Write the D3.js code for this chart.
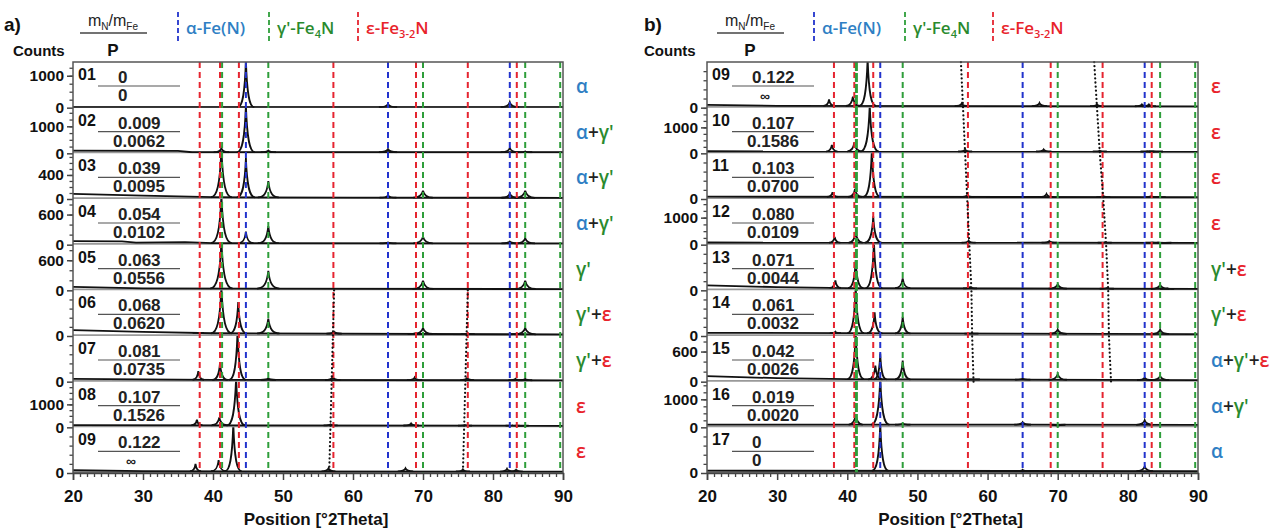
<!DOCTYPE html>
<html>
<head>
<meta charset="utf-8">
<script src="https://cdn.jsdelivr.net/npm/d3@7"></script>
<style>
  body { margin: 0; background: #fff; }
  text { font-family: "Liberation Sans", Arial, sans-serif; }
</style>
</head>
<body>
<div id="chart"></div>
<script>
// reference peak positions (deg 2theta)
const alphaRef = [44.7, 65.0, 82.4];
const gammaRef = [41.3, 47.9, 70.0, 84.6, 89.6];
const epsRef = [38.1, 41.0, 43.7, 57.2, 69.0, 76.4, 83.4];

// panel a
const samplesA = ["01", "02", "03", "04", "05", "06", "07", "08", "09"];
const ratioA = ["0", "0.009", "0.039", "0.054", "0.063", "0.068", "0.081", "0.107", "0.122"];
const potA = ["0", "0.0062", "0.0095", "0.0102", "0.0556", "0.0620", "0.0735", "0.1526", "∞"];
const phaseA = ["α", "α+γ'", "α+γ'", "α+γ'", "γ'", "γ'+ε", "γ'+ε", "ε", "ε"];
const yMaxA = [1430, 1690, 760, 910, 910, 1000, 1000, 1990, 1000];
const yLabelA = [1000, 1000, 400, 600, 600, null, null, 1000, null];
const yStepA = [250, 250, 100, 200, 200, 200, 200, 250, 200];
const bgA = [
  [[20, 15], [90, 15]],
  [[20, 100], [35, 90], [37, 40], [90, 40]],
  [[20, 85], [30, 55], [40, 30], [60, 22], [90, 20]],
  [[20, 70], [27, 65], [29, 40], [36, 50], [40, 30], [90, 25]],
  [[20, 70], [30, 40], [90, 25]],
  [[20, 130], [30, 90], [40, 60], [90, 35]],
  [[20, 60], [40, 40], [90, 30]],
  [[20, 100], [90, 70]],
  [[20, 60], [30, 40], [90, 30]]
];
// [position, apex counts, half base width]
const peaksA = [
  [[44.7, 1500, 1.2], [65.0, 110, 1.3], [82.4, 170, 1.3]],
  [[41.2, 190, 1.1], [44.7, 1800, 1.3], [47.9, 100, 1.1], [65.0, 150, 1.3], [82.4, 200, 1.3], [84.6, 70, 1]],
  [[41.2, 850, 1.5], [44.7, 680, 1.3], [47.9, 300, 1.5], [65.0, 60, 1.2], [70.0, 140, 1.4], [82.4, 90, 1.2], [84.6, 140, 1.4]],
  [[41.2, 1000, 1.5], [44.7, 260, 1.1], [47.9, 370, 1.5], [65.0, 45, 1.2], [70.0, 160, 1.4], [82.4, 60, 1.2], [84.6, 130, 1.4]],
  [[41.2, 1000, 1.6], [47.9, 390, 1.6], [70.0, 190, 1.5], [84.6, 190, 1.5]],
  [[37.9, 70, 0.8], [41.2, 1100, 1.5], [43.6, 745, 1.2], [47.9, 380, 1.6], [57.3, 90, 1.1], [68.9, 60, 1.1], [70.0, 175, 1.4], [76.4, 45, 1], [83.4, 50, 1], [84.6, 175, 1.5]],
  [[37.9, 230, 0.8], [41.0, 415, 1.1], [43.5, 1100, 1.2], [47.9, 70, 1.1], [57.1, 100, 1.1], [68.8, 90, 1.1], [76.3, 80, 1], [83.2, 60, 1], [84.6, 60, 1]],
  [[37.7, 330, 0.8], [40.9, 430, 1.1], [43.3, 2200, 1.3], [56.8, 130, 1], [68.3, 170, 1.1], [76.0, 100, 1], [82.8, 90, 1], [84.1, 70, 1]],
  [[37.5, 200, 0.8], [40.8, 280, 1.1], [42.9, 1100, 1.2], [56.5, 100, 1], [67.5, 100, 1.1], [75.7, 80, 1], [82.0, 90, 1], [83.3, 70, 1]]
];
const dotsA = [
  [[57.3, 5], [56.6, 9]],
  [[76.4, 5], [75.7, 9]]
];

// panel b
const samplesB = ["09", "10", "11", "12", "13", "14", "15", "16", "17"];
const ratioB = ["0.122", "0.107", "0.103", "0.080", "0.071", "0.061", "0.042", "0.019", "0"];
const potB = ["∞", "0.1586", "0.0700", "0.0109", "0.0044", "0.0032", "0.0026", "0.0020", "0"];
const phaseB = ["ε", "ε", "ε", "ε", "γ'+ε", "γ'+ε", "α+γ'+ε", "α+γ'", "α"];
const yMaxB = [1000, 1760, 1000, 1690, 1000, 1000, 910, 1630, 1000];
const yLabelB = [null, 1000, null, 1000, null, null, 600, 1000, null];
const yStepB = [200, 250, 200, 250, 200, 200, 200, 250, 200];
const bgB = [
  [[20, 60], [30, 40], [90, 30]],
  [[20, 80], [90, 70]],
  [[20, 50], [90, 40]],
  [[20, 80], [90, 70]],
  [[20, 110], [30, 70], [40, 50], [90, 30]],
  [[20, 70], [90, 40]],
  [[20, 110], [30, 70], [40, 50], [90, 30]],
  [[20, 100], [90, 90]],
  [[20, 50], [90, 40]]
];
const peaksB = [
  [[37.4, 180, 0.8], [40.8, 240, 1], [42.9, 1100, 1.2], [56.3, 90, 1], [67.4, 100, 1.1], [75.6, 70, 1], [82.0, 70, 1], [83.0, 70, 1]],
  [[37.8, 330, 0.8], [41.0, 420, 1], [43.2, 1900, 1.3], [56.8, 140, 1], [68.0, 150, 1.1], [76.0, 100, 1], [82.8, 80, 1], [84.0, 80, 1]],
  [[37.9, 150, 0.8], [41.1, 220, 1], [43.5, 1100, 1.2], [57.1, 90, 1], [68.4, 110, 1.1], [76.5, 70, 1], [83.3, 60, 1], [84.4, 45, 1]],
  [[38.2, 290, 0.8], [41.2, 470, 1], [43.7, 1050, 1.2], [57.3, 150, 1], [68.8, 130, 1.1], [76.7, 90, 1], [83.5, 80, 1], [85.2, 60, 1]],
  [[38.3, 220, 0.8], [41.2, 660, 1.1], [43.8, 1100, 1.2], [47.9, 260, 1.1], [57.5, 70, 1], [70.0, 130, 1.3], [77.0, 50, 1], [84.6, 120, 1.3], [85.6, 45, 1]],
  [[38.3, 90, 0.8], [41.2, 1100, 1.2], [43.9, 520, 1.1], [47.9, 420, 1.1], [57.7, 50, 1], [70.0, 140, 1.3], [84.6, 140, 1.3]],
  [[41.2, 1000, 1.2], [44.0, 320, 1], [44.7, 560, 0.9], [47.9, 420, 1.1], [57.9, 45, 1], [65.0, 60, 1.1], [70.0, 150, 1.3], [82.4, 80, 1.1], [84.6, 110, 1.3]],
  [[41.2, 460, 1], [44.7, 1800, 1.3], [47.9, 140, 1.1], [65.0, 180, 1.2], [70.0, 60, 1.1], [82.4, 250, 1.2]],
  [[44.7, 1100, 1.2], [65.0, 70, 1.1], [82.4, 140, 1.2]]
];
const dotsB = [
  [[56.2, 0], [56.5, 1], [56.8, 2], [57.1, 3], [57.4, 4], [57.7, 5], [57.8, 6], [58.0, 7]],
  [[75.2, 0], [75.6, 1], [76.0, 2], [76.5, 3], [76.9, 4], [77.2, 5], [77.3, 6], [77.6, 7]]
];

const W = 1275, H = 529;
const plotTop = 62, plotBottom = 473, nRows = 9;
const rowH = (plotBottom - plotTop) / nRows;

const colBlueLine = "#2233cc", colGreenLine = "#2e9e3a", colRedLine = "#e52530";
const colBlue = "#2f7fc4", colGreen = "#2a8a2e", colRed = "#e8232b";
const phaseColor = { "α": colBlue, "γ'": colGreen, "ε": colRed, "+": "#222" };

const svg = d3.select("#chart").append("svg")
  .attr("width", W).attr("height", H);

const panels = [
  { tag: "a)", x0: 73, x1: 563, off: 0, samples: samplesA, ratio: ratioA, pot: potA, phase: phaseA,
    yMax: yMaxA, yLabel: yLabelA, yStep: yStepA, bg: bgA, peaks: peaksA, dots: dotsA, legendX: [178, 269, 358] },
  { tag: "b)", x0: 707, x1: 1198, off: 640, samples: samplesB, ratio: ratioB, pot: potB, phase: phaseB,
    yMax: yMaxB, yLabel: yLabelB, yStep: yStepB, bg: bgB, peaks: peaksB, dots: dotsB, legendX: [814, 905, 993] }
];

panels.forEach((p, pi) => drawPanel(p, pi));

function drawPanel(p, pi) {
  const g = svg.append("g");
  const x = d3.scaleLinear().domain([20, 90]).range([p.x0, p.x1]);

  // rows
  for (let i = 0; i < nRows; i++) {
    const rowTop = plotTop + i * rowH;
    const y = d3.scaleLinear().domain([0, p.yMax[i]]).range([rowTop + rowH, rowTop]);
    const clipId = `clip-${pi}-${i}`;
    svg.append("clipPath").attr("id", clipId)
      .append("rect").attr("x", p.x0).attr("y", rowTop).attr("width", p.x1 - p.x0).attr("height", rowH);

    const rg = g.append("g").attr("clip-path", `url(#${clipId})`);

    // separator under the trace
    rg.append("line")
      .attr("x1", p.x0).attr("x2", p.x1)
      .attr("y1", rowTop + rowH - 0.5).attr("y2", rowTop + rowH - 0.5)
      .attr("stroke", "#999").attr("stroke-width", 2.5);

    const bgScale = d3.scaleLinear().domain(p.bg[i].map(d => d[0])).range(p.bg[i].map(d => d[1]));

    rg.append("path")
      .attr("d", d3.line().x(d => x(d[0])).y(d => y(d[1]))(p.bg[i]))
      .attr("fill", "none").attr("stroke", "#111").attr("stroke-width", 1.8);

    p.peaks[i].forEach(pk => {
      const [pos, h, w] = pk;
      const b = bgScale(pos);
      const mid = b + 0.22 * (h - b);
      const pth = d3.path();
      pth.moveTo(x(pos - w), y(b));
      pth.bezierCurveTo(x(pos - 0.45 * w), y(b), x(pos - 0.13 * w), y(mid), x(pos), y(h));
      pth.bezierCurveTo(x(pos + 0.13 * w), y(mid), x(pos + 0.45 * w), y(b), x(pos + w), y(b));
      rg.append("path").attr("d", pth.toString())
        .attr("fill", "none").attr("stroke", "#111").attr("stroke-width", 1.8);
    });

    // y axis: minor + major
    const minor = d3.range(p.yStep[i], p.yMax[i], p.yStep[i]);
    g.append("g")
      .attr("transform", `translate(${p.x0},0)`)
      .call(d3.axisLeft(y).tickValues(minor).tickSize(3.5).tickFormat(""))
      .call(a => a.select(".domain").remove())
      .call(a => a.selectAll("line").attr("stroke", "#444").attr("stroke-width", 1.3));
    const major = p.yLabel[i] ? [0, p.yLabel[i]] : [0];
    g.append("g")
      .attr("transform", `translate(${p.x0},0)`)
      .call(d3.axisLeft(y).tickValues(major).tickSize(6).tickPadding(3).tickFormat(d3.format("d")))
      .call(a => a.select(".domain").remove())
      .call(a => a.selectAll("line").attr("stroke", "#444").attr("stroke-width", 1.5))
      .call(a => a.selectAll("text")
        .style("font-family", "'Liberation Sans', Arial, sans-serif")
        .style("font-size", "15.5px").style("font-weight", "bold").attr("fill", "#111"));

    // sample label and fraction
    g.append("text").attr("x", p.x0 + 5).attr("y", rowTop + 18)
      .style("font-size", "16px").style("font-weight", "bold").attr("fill", "#111")
      .text(p.samples[i]);
    g.append("text").attr("x", p.x0 + 45).attr("y", rowTop + 21)
      .style("font-size", "17px").style("font-weight", "bold").attr("fill", "#222")
      .text(p.ratio[i]);
    g.append("line")
      .attr("x1", p.x0 + 25).attr("x2", p.x0 + 107)
      .attr("y1", rowTop + 24).attr("y2", rowTop + 24)
      .attr("stroke", "#555").attr("stroke-width", 1.2);
    const den = p.pot[i];
    const denX = den.length >= 6 ? p.x0 + 40 : (den === "∞" ? p.x0 + 53 : p.x0 + 45);
    g.append("text").attr("x", denX).attr("y", rowTop + 39)
      .style("font-size", den === "∞" ? "14px" : "17px").style("font-weight", "bold").attr("fill", "#222")
      .text(den);

    // phase label on the right
    const pt = g.append("text").attr("x", p.x1 + 13).attr("y", rowTop + 31)
      .style("font-family", "'Open Sans', sans-serif")
      .style("font-size", "19px").style("font-weight", 600);
    p.phase[i].split(/(\+)/).filter(s => s).forEach(tok => {
      pt.append("tspan").attr("fill", phaseColor[tok]).text(tok);
    });
  }

  // reference lines
  const refSets = [[epsRef, colRedLine], [gammaRef, colGreenLine], [alphaRef, colBlueLine]];
  refSets.forEach(([vals, col]) => {
    g.selectAll(null).data(vals).enter().append("line")
      .attr("x1", d => x(d)).attr("x2", d => x(d))
      .attr("y1", plotTop).attr("y2", plotBottom)
      .attr("stroke", col)
      .attr("stroke-width", d => (pi === 1 && d === 41.3) ? 3 : 2)
      .attr("stroke-dasharray", d => (pi === 1 && d === 41.3) ? "9,2" : "6,4");
  });

  // dotted guide lines
  p.dots.forEach(pts => {
    g.append("path")
      .attr("d", d3.line().x(d => x(d[0])).y(d => plotTop + d[1] * rowH)(pts))
      .attr("fill", "none").attr("stroke", "#111").attr("stroke-width", 2.2)
      .attr("stroke-linecap", "round")
      .attr("stroke-dasharray", "0.1,4");
  });

  // frame
  g.append("rect")
    .attr("x", p.x0).attr("y", plotTop)
    .attr("width", p.x1 - p.x0).attr("height", plotBottom - plotTop)
    .attr("fill", "none").attr("stroke", "#555").attr("stroke-width", 1.5);

  // x axis
  g.append("g")
    .attr("transform", `translate(0,${plotBottom})`)
    .call(d3.axisBottom(x).tickValues(d3.range(21, 90, 1).filter(v => v % 10 !== 0)).tickSize(4).tickFormat(""))
    .call(a => a.select(".domain").remove())
    .call(a => a.selectAll("line").attr("stroke", "#444").attr("stroke-width", 1.3));
  g.append("g")
    .attr("transform", `translate(0,${plotBottom})`)
    .call(d3.axisBottom(x).tickValues(d3.range(20, 91, 10)).tickSize(7).tickPadding(10))
    .call(a => a.select(".domain").attr("stroke", "#444").attr("stroke-width", 1.5))
    .call(a => a.selectAll("line").attr("stroke", "#444").attr("stroke-width", 1.5))
    .call(a => a.selectAll("text")
      .style("font-family", "'Liberation Sans', Arial, sans-serif")
      .style("font-size", "17px").style("font-weight", "bold").attr("fill", "#111"));

  g.append("text")
    .attr("x", (p.x0 + p.x1) / 2 - 2).attr("y", 525)
    .attr("text-anchor", "middle")
    .style("font-size", "17px").style("font-weight", "bold").attr("fill", "#111")
    .text("Position [°2Theta]");

  // header
  g.append("text").attr("x", p.off + 4).attr("y", 31)
    .style("font-size", "19px").style("font-weight", "bold").attr("fill", "#111")
    .text(p.tag);
  g.append("text").attr("x", p.off + (pi === 0 ? 13 : 4)).attr("y", 56)
    .style("font-size", "15px").style("font-weight", "bold").attr("fill", "#111")
    .text("Counts");

  const cx = p.off + (pi === 0 ? 113 : 110);
  const mt = g.append("text").attr("x", cx).attr("y", 26).attr("text-anchor", "middle")
    .style("font-size", "16px").attr("fill", "#222");
  mt.append("tspan").text("m");
  mt.append("tspan").attr("dy", 4).style("font-size", "10px").text("N");
  mt.append("tspan").attr("dy", -4).text("/m");
  mt.append("tspan").attr("dy", 4).style("font-size", "10px").text("Fe");
  g.append("line").attr("x1", cx - 33).attr("x2", cx + 34).attr("y1", 33).attr("y2", 33)
    .attr("stroke", "#444").attr("stroke-width", 1.5);
  g.append("text").attr("x", cx).attr("y", 56).attr("text-anchor", "middle")
    .style("font-size", "17px").style("font-weight", "bold").attr("fill", "#111")
    .text("P");

  // legend
  const legend = [
    { col: colBlueLine, tcol: colBlue, parts: [["α-Fe(N)", 0]] },
    { col: colGreenLine, tcol: colGreen, parts: [["γ'-Fe", 0], ["4", 1], ["N", 0]] },
    { col: colRedLine, tcol: colRed, parts: [["ε-Fe", 0], ["3-2", 1], ["N", 0]] }
  ];
  legend.forEach((l, k) => {
    const lx = p.legendX[k];
    g.append("line").attr("x1", lx).attr("x2", lx).attr("y1", 12).attr("y2", 43)
      .attr("stroke", l.col).attr("stroke-width", 1.8).attr("stroke-dasharray", "5,3");
    const t = g.append("text").attr("x", lx + 8).attr("y", 34)
      .style("font-family", "'Open Sans', sans-serif")
      .style("font-size", "17px").style("font-weight", 600).attr("fill", l.tcol);
    let sub = 0;
    l.parts.forEach(([s, isSub]) => {
      const ts = t.append("tspan").text(s);
      if (isSub && !sub) { ts.attr("dy", 4).style("font-size", "11px"); sub = 1; }
      else if (!isSub && sub) { ts.attr("dy", -4); sub = 0; }
    });
  });
}
</script>
</body>
</html>
